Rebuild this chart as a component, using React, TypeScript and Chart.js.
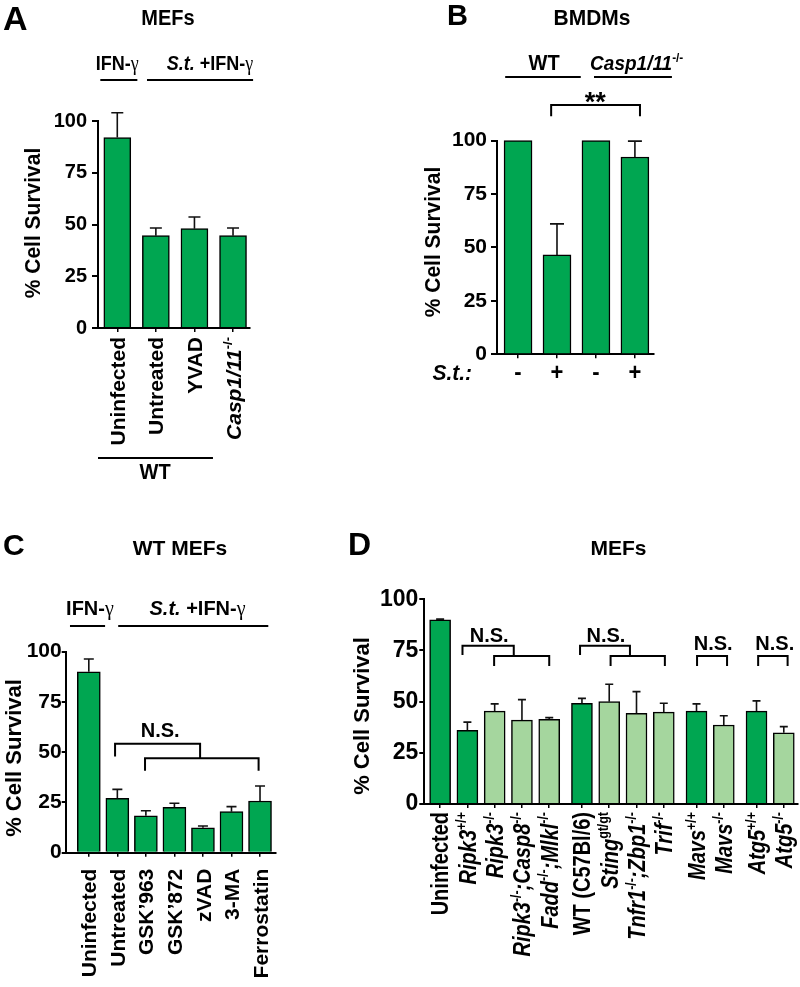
import React, { useEffect, useRef } from 'react';
import { Chart, registerables } from 'chart.js';

Chart.register(...registerables);

const PAGE_W = 800;
const PAGE_H = 987;
const FAMILY = '"Liberation Sans", Arial, Helvetica, sans-serif';
const GREEK_FAMILY = '"Liberation Serif", "DejaVu Serif", serif';
const DARK = '#00A651';
const LIGHT = '#A5D69E';
const Y_AXIS_TITLE = '% Cell Survival';
const yTickValues = [0, 25, 50, 75, 100];

// ---------- Panel A : MEFs ----------
const aLabels = ['Uninfected', 'Untreated', 'YVAD', '*Casp1/11*^-/-^'];
const aValues = [92, 44.6, 48, 44.6];
const aErrors = [12, 3.7, 5.6, 3.7];

// ---------- Panel B : BMDMs ----------
const bLabels = ['-', '+', '-', '+'];
const bValues = [100, 46.5, 100, 92.3];
const bErrors = [0, 14.5, 0, 7.4];

// ---------- Panel C : WT MEFs ----------
const cLabels = ['Uninfected', 'Untreated', 'GSK\u2019963', 'GSK\u2019872', 'zVAD', '3-MA', 'Ferrostatin'];
const cValues = [90, 27.1, 18.4, 22.6, 12.4, 20.4, 25.7];
const cErrors = [6.4, 4.4, 2.5, 2, 0.9, 2.5, 7.5];

// ---------- Panel D : MEFs ----------
const dLabels = [
  'Uninfected',
  '*Ripk3*^+/+^',
  '*Ripk3*^-/-^',
  '*Ripk3*^-/-^*;Casp8*^-/-^',
  '*Fadd*^-/-^*;Mlkl*^-/-^',
  'WT (C57Bl/6)',
  '*Sting*^gt/gt^',
  '*Tnfr1*^-/-^*;Zbp1*^-/-^',
  '*Trif*^-/-^',
  '*Mavs*^+/+^',
  '*Mavs*^-/-^',
  '*Atg5*^+/+^',
  '*Atg5*^-/-^',
];
const dValues = [90, 36, 45.4, 41, 41.4, 49.2, 50, 44.3, 44.9, 45.4, 38.6, 45.4, 34.8];
const dErrors = [0.3, 4, 3.5, 10, 0.8, 2.4, 8.5, 10.6, 4.3, 3.5, 4.5, 5, 3];
const dKnockout = [false, false, true, true, true, false, true, true, true, false, true, false, true];
const dGroups = [5, 4, 2, 2];
const D_GROUP_GAP = 0.2;

function groupPositions(groups: number[], gap: number): number[] {
  const out: number[] = [];
  let p = 0;
  groups.forEach((n) => {
    for (let k = 0; k < n; k++) {
      out.push(p);
      p += 1;
    }
    p += gap;
  });
  return out;
}

// ---------- rich text ----------
type Seg = { t: string; it: boolean; sup: boolean; gr: boolean };
function parseRich(s: string): Seg[] {
  const segs: Seg[] = [];
  let it = false, sup = false, gr = false, cur = '';
  const push = () => {
    if (cur) segs.push({ t: cur, it, sup, gr });
    cur = '';
  };
  for (const ch of s) {
    if (ch === '*') { push(); it = !it; }
    else if (ch === '^') { push(); sup = !sup; }
    else if (ch === '~') { push(); gr = !gr; }
    else cur += ch;
  }
  push();
  return segs;
}
function segFont(sg: Seg, size: number) {
  const sz = sg.sup ? size * 0.62 : size;
  if (sg.gr) return `${sg.it ? 'italic ' : ''}normal ${sz}px ${GREEK_FAMILY}`;
  return `${sg.it ? 'italic ' : ''}bold ${sz}px ${FAMILY}`;
}
function drawRich(
  ctx: CanvasRenderingContext2D,
  s: string,
  x: number,
  y: number,
  size: number,
  align: 'left' | 'center' | 'right',
  rotate = false,
  dy = 0,
  stretch = 1
) {
  const segs = parseRich(s);
  ctx.save();
  ctx.translate(x, y);
  if (rotate) ctx.rotate(-Math.PI / 2);
  ctx.scale(1, stretch);
  ctx.textAlign = 'left';
  ctx.textBaseline = 'alphabetic';
  ctx.fillStyle = '#000';
  let w = 0;
  const ws = segs.map((sg) => {
    ctx.font = segFont(sg, size);
    const m = ctx.measureText(sg.t).width;
    w += m;
    return m;
  });
  let cx = align === 'left' ? 0 : align === 'center' ? -w / 2 : -w;
  segs.forEach((sg, i) => {
    ctx.font = segFont(sg, size);
    ctx.fillText(sg.t, cx, dy + (sg.sup ? -size * 0.4 : 0));
    cx += ws[i];
  });
  ctx.restore();
}

function strokePath(ctx: CanvasRenderingContext2D, pts: number[][], lw = 2) {
  ctx.save();
  ctx.strokeStyle = '#000';
  ctx.lineWidth = lw;
  ctx.lineCap = 'butt';
  ctx.lineJoin = 'miter';
  ctx.beginPath();
  pts.forEach((p, i) => (i === 0 ? ctx.moveTo(p[0], p[1]) : ctx.lineTo(p[0], p[1])));
  ctx.stroke();
  ctx.restore();
}

function plainText(ctx: CanvasRenderingContext2D, t: string, x: number, y: number, font: string, align: CanvasTextAlign, stretch = 1) {
  ctx.save();
  ctx.translate(x, y);
  ctx.scale(1, stretch);
  ctx.font = font;
  ctx.fillStyle = '#000';
  ctx.textAlign = align;
  ctx.textBaseline = 'alphabetic';
  ctx.fillText(t, 0, 0);
  ctx.restore();
}

function yTitle(ctx: CanvasRenderingContext2D, x: number, y: number, size: number, stretch = 1) {
  drawRich(ctx, Y_AXIS_TITLE, x, y, size, 'center', true, size * 0.36, stretch);
}

type PX = (v: number) => number;

type PanelCfg = {
  labels: string[];
  values: number[];
  errors: number[];
  colors: string[];
  xs: number[];
  xMin: number;
  xMax: number;
  area: { left: number; right: number; top: number; bottom: number };
  barThickness: number;
  cap: number;
  yTickSize: number;
  yTickLen: number;
  yTickPad: number;
  xLabelSize: number;
  xLabelGap: number;
  xLabelRotate: boolean;
  xLabelStretch: number;
  deco: (ctx: CanvasRenderingContext2D, px: PX, py: PX) => void;
};

const YW = 60;
const XH = 10;

const panels: PanelCfg[] = [
  {
    labels: aLabels,
    values: aValues,
    errors: aErrors,
    colors: aValues.map(() => DARK),
    xs: aValues.map((_, i) => i),
    xMin: -0.5,
    xMax: 3.44,
    area: { left: 98, right: 250, top: 121, bottom: 328 },
    barThickness: 27,
    cap: 12,
    yTickSize: 20,
    yTickLen: 6,
    yTickPad: 5,
    xLabelSize: 21,
    xLabelGap: 9,
    xLabelRotate: true,
    xLabelStretch: 1,
    deco: (ctx, px, py) => {
      plainText(ctx, 'A', 3, 30, `bold 34px ${FAMILY}`, 'left');
      plainText(ctx, 'MEFs', 168, 25, `bold 20px ${FAMILY}`, 'center', 1.06);
      yTitle(ctx, 32, 223, 21, 1.05);
      drawRich(ctx, 'IFN-~\u03b3~', px(0.0), py(124.6), 18, 'center', false, 0, 1.15);
      strokePath(ctx, [[px(-0.44), py(119.8)], [px(0.52), py(119.8)]]);
      drawRich(ctx, '*S.t.* +IFN-~\u03b3~', px(2.4), py(124.6), 18, 'center', false, 0, 1.15);
      strokePath(ctx, [[px(0.77), py(119.8)], [px(3.52), py(119.8)]]);
      strokePath(ctx, [[px(-0.5), py(-62.8)], [px(2.48), py(-62.8)]]);
      drawRich(ctx, 'WT', px(0.98), py(-72.9), 20, 'center', false, 0, 1.1);
    },
  },
  {
    labels: bLabels,
    values: bValues,
    errors: bErrors,
    colors: bValues.map(() => DARK),
    xs: bValues.map((_, i) => i),
    xMin: -0.54,
    xMax: 3.49,
    area: { left: 497, right: 654, top: 140.5, bottom: 354.3 },
    barThickness: 28,
    cap: 14,
    yTickSize: 21,
    yTickLen: 6,
    yTickPad: 4,
    xLabelSize: 22,
    xLabelGap: 26,
    xLabelRotate: false,
    xLabelStretch: 1.05,
    deco: (ctx, px, py) => {
      plainText(ctx, 'B', 447, 25, `bold 29px ${FAMILY}`, 'left');
      plainText(ctx, 'BMDMs', 592, 25, `bold 21px ${FAMILY}`, 'center', 1.05);
      yTitle(ctx, 432, 242, 21, 1.05);
      drawRich(ctx, 'WT', px(0.67), py(133), 20, 'center', false, 0, 1.1);
      strokePath(ctx, [[px(-0.33), py(129.7)], [px(1.61), py(129.7)]]);
      drawRich(ctx, '*Casp1/11*^-/-^', px(1.85), py(133), 19, 'left', false, 0, 1.1);
      strokePath(ctx, [[px(1.95), py(129.7)], [px(3.95), py(129.7)]]);
      plainText(ctx, '**', px(1.98), py(113.8), `bold 27px ${FAMILY}`, 'center');
      strokePath(ctx, [[px(0.85), py(111.4)], [px(0.85), py(116.6)], [px(3.13), py(116.6)], [px(3.13), py(111.4)]]);
      drawRich(ctx, '*S.t.:*', px(-1.18), py(0) + 26, 21, 'right', false, 0, 1.05);
    },
  },
  {
    labels: cLabels,
    values: cValues,
    errors: cErrors,
    colors: cValues.map(() => DARK),
    xs: cValues.map((_, i) => i),
    xMin: -0.81,
    xMax: 6.56,
    area: { left: 65.7, right: 276, top: 651.7, bottom: 852.7 },
    barThickness: 23,
    cap: 10,
    yTickSize: 21,
    yTickLen: 4,
    yTickPad: 0,
    xLabelSize: 21,
    xLabelGap: 16,
    xLabelRotate: true,
    xLabelStretch: 1,
    deco: (ctx, px, py) => {
      plainText(ctx, 'C', 3, 555, `bold 30px ${FAMILY}`, 'left');
      plainText(ctx, 'WT MEFs', 180, 555, `bold 21px ${FAMILY}`, 'center');
      yTitle(ctx, 13, 758, 22);
      drawRich(ctx, 'IFN-~\u03b3~', px(0.04), py(118.3), 20, 'center', false, 0, 1.05);
      strokePath(ctx, [[px(-0.66), py(112.8)], [px(0.57), py(112.8)]]);
      drawRich(ctx, '*S.t.* +IFN-~\u03b3~', px(3.81), py(118.3), 20, 'center', false, 0, 1.05);
      strokePath(ctx, [[px(1.03), py(112.8)], [px(6.29), py(112.8)]]);
      drawRich(ctx, 'N.S.', px(2.5), py(57.4), 20, 'center');
      strokePath(ctx, [[px(0.92), py(47.8)], [px(0.92), py(54.2)], [px(3.9), py(54.2)], [px(3.9), py(47.0)]]);
      strokePath(ctx, [[px(1.97), py(40.8)], [px(1.97), py(47.0)], [px(5.95), py(47.0)], [px(5.95), py(40.8)]]);
    },
  },
  {
    labels: dLabels,
    values: dValues,
    errors: dErrors,
    colors: dKnockout.map((k) => (k ? LIGHT : DARK)),
    xs: groupPositions(dGroups, D_GROUP_GAP),
    xMin: -0.58,
    xMax: 13.11,
    area: { left: 424.3, right: 797.7, top: 599.3, bottom: 804 },
    barThickness: 21,
    cap: 8,
    yTickSize: 23,
    yTickLen: 5,
    yTickPad: 1,
    xLabelSize: 20,
    xLabelGap: 8,
    xLabelRotate: true,
    xLabelStretch: 1.15,
    deco: (ctx, px, py) => {
      plainText(ctx, 'D', 348, 555, `bold 32px ${FAMILY}`, 'left');
      plainText(ctx, 'MEFs', 618.5, 555, `bold 21px ${FAMILY}`, 'center');
      yTitle(ctx, 361, 716, 22);
      // Ripk3 group
      drawRich(ctx, 'N.S.', px(1.8), py(79.3), 20, 'center');
      strokePath(ctx, [[px(0.82), py(72.8)], [px(0.82), py(77.3)], [px(2.7), py(77.3)], [px(2.7), py(72.3)]]);
      strokePath(ctx, [[px(1.98), py(67.4)], [px(1.98), py(72.3)], [px(4.0), py(72.3)], [px(4.0), py(67.4)]]);
      // WT group
      drawRich(ctx, 'N.S.', px(6.08), py(79.3), 20, 'center');
      strokePath(ctx, [[px(5.13), py(72.8)], [px(5.13), py(77.3)], [px(6.96), py(77.3)], [px(6.96), py(72.3)]]);
      strokePath(ctx, [[px(6.25), py(67.4)], [px(6.25), py(72.3)], [px(8.24), py(72.3)], [px(8.24), py(67.4)]]);
      // Mavs
      drawRich(ctx, 'N.S.', px(10.01), py(75.2), 20, 'center');
      strokePath(ctx, [[px(9.42), py(67.4)], [px(9.42), py(72.3)], [px(10.52), py(72.3)], [px(10.52), py(67.4)]]);
      // Atg5
      drawRich(ctx, 'N.S.', px(12.27), py(75.2), 20, 'center');
      strokePath(ctx, [[px(11.66), py(67.4)], [px(11.66), py(72.3)], [px(12.74), py(72.3)], [px(12.74), py(67.4)]]);
    },
  },
];

function buildChart(canvas: HTMLCanvasElement, cfg: PanelCfg) {
  const a = cfg.area;
  const errPlugin = {
    id: 'errbars',
    afterDatasetsDraw(chart: any) {
      const ctx: CanvasRenderingContext2D = chart.ctx;
      const ys = chart.scales.y;
      const meta = chart.getDatasetMeta(0);
      ctx.save();
      ctx.strokeStyle = '#111';
      ctx.lineWidth = 1.6;
      meta.data.forEach((bar: any, i: number) => {
        const e = cfg.errors[i];
        if (!e) return;
        const yTop = ys.getPixelForValue(cfg.values[i] + e);
        ctx.beginPath();
        ctx.moveTo(bar.x, bar.y);
        ctx.lineTo(bar.x, yTop);
        ctx.moveTo(bar.x - cfg.cap / 2, yTop);
        ctx.lineTo(bar.x + cfg.cap / 2, yTop);
        ctx.stroke();
      });
      ctx.restore();
    },
  };
  const decoPlugin = {
    id: 'deco',
    afterDraw(chart: any) {
      const ctx: CanvasRenderingContext2D = chart.ctx;
      const xs = chart.scales.x;
      const ys = chart.scales.y;
      const px = (v: number) => xs.getPixelForValue(v);
      const py = (v: number) => ys.getPixelForValue(v);
      const axisY = py(0);
      cfg.labels.forEach((lab, i) => {
        const x = px(cfg.xs[i]);
        if (cfg.xLabelRotate) {
          drawRich(ctx, lab, x, axisY + cfg.xLabelGap, cfg.xLabelSize, 'right', true, cfg.xLabelSize * 0.36, cfg.xLabelStretch);
        } else {
          drawRich(ctx, lab, x, axisY + cfg.xLabelGap, cfg.xLabelSize, 'center', false, 0, cfg.xLabelStretch);
        }
      });
      cfg.deco(ctx, px, py);
    },
  };
  return new Chart(canvas, {
    type: 'bar',
    data: {
      datasets: [
        {
          data: cfg.xs.map((x, i) => ({ x, y: cfg.values[i] })),
          backgroundColor: cfg.colors,
          borderColor: '#000',
          borderWidth: 1.5,
          barThickness: cfg.barThickness,
          clip: false,
        } as any,
      ],
    },
    options: {
      animation: false,
      responsive: false,
      maintainAspectRatio: false,
      events: [],
      layout: {
        padding: {
          left: a.left - YW,
          right: PAGE_W - a.right,
          top: a.top,
          bottom: PAGE_H - a.bottom - XH,
        },
      },
      plugins: {
        legend: { display: false },
        tooltip: { enabled: false },
        title: { display: false },
      },
      scales: {
        x: {
          type: 'linear',
          min: cfg.xMin,
          max: cfg.xMax,
          offset: false,
          grid: {
            display: true,
            offset: false,
            drawOnChartArea: false,
            drawTicks: true,
            tickLength: 4,
            color: '#000',
            lineWidth: 1.5,
          },
          border: { display: true, color: '#000', width: 2 },
          ticks: { display: false },
          afterBuildTicks: (s: any) => {
            s.ticks = cfg.xs.map((v) => ({ value: v }));
          },
          afterFit: (s: any) => {
            s.height = XH;
          },
        },
        y: {
          type: 'linear',
          min: 0,
          max: 100,
          grid: {
            display: true,
            drawOnChartArea: false,
            drawTicks: true,
            tickLength: cfg.yTickLen,
            color: '#000',
            lineWidth: 2,
          },
          border: { display: true, color: '#000', width: 2 },
          ticks: {
            color: '#000',
            padding: cfg.yTickPad,
            font: { family: FAMILY, weight: 'bold', size: cfg.yTickSize },
          },
          afterBuildTicks: (s: any) => {
            s.ticks = yTickValues.map((v) => ({ value: v }));
          },
          afterFit: (s: any) => {
            s.width = YW;
          },
        },
      },
    } as any,
    plugins: [errPlugin, decoPlugin],
  });
}

function PanelChart({ cfg }: { cfg: PanelCfg }) {
  const ref = useRef<HTMLCanvasElement>(null);
  useEffect(() => {
    if (!ref.current) return;
    const chart = buildChart(ref.current, cfg);
    return () => chart.destroy();
  }, [cfg]);
  return (
    <canvas
      ref={ref}
      width={PAGE_W}
      height={PAGE_H}
      style={{ position: 'absolute', left: 0, top: 0, width: PAGE_W, height: PAGE_H }}
    />
  );
}

export default function App() {
  return (
    <div
      style={{
        position: 'absolute',
        left: 0,
        top: 0,
        width: PAGE_W,
        height: PAGE_H,
        background: '#fff',
        overflow: 'hidden',
      }}
    >
      {panels.map((p, i) => (
        <PanelChart key={i} cfg={p} />
      ))}
    </div>
  );
}
